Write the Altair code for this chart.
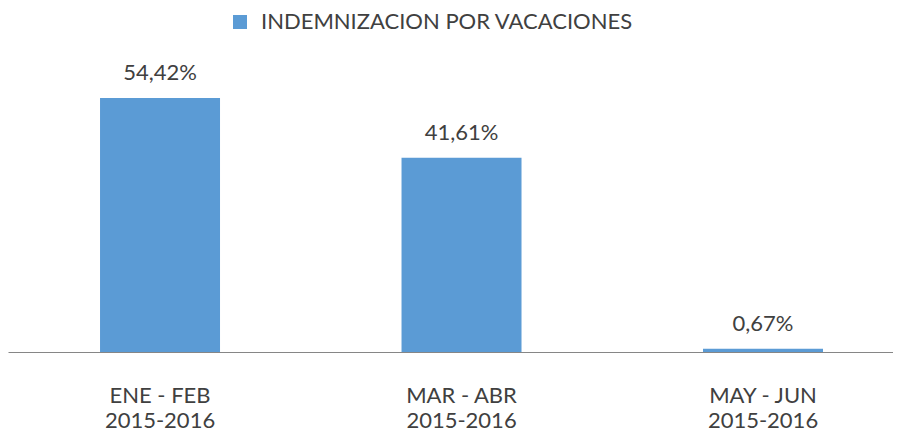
import altair as alt
import pandas as pd

categories = ["ENE - FEB\n2015-2016", "MAR - ABR\n 2015-2016", "MAY - JUN\n2015-2016"]
values = [54.42, 41.61, 0.67]
value_labels = ["54,42%", "41,61%", "0,67%"]
series_name = "INDEMNIZACION POR VACACIONES"

df = pd.DataFrame({
    "cat": categories,
    "value": values,
    "label": value_labels,
    "series": [series_name] * len(categories),
})

FONT = "Lato"
TXT = "#404040"

x = alt.X(
    "cat:N",
    sort=categories,
    scale=alt.Scale(paddingInner=0.602, paddingOuter=0.2687, align=0.568),
    axis=alt.Axis(
        title=None, labelAngle=0, ticks=False, domainColor="#868686",
        domainWidth=1, labelExpr="split(datum.label, '\\n')",
        labelFont=FONT, labelFontSize=22, labelColor=TXT,
        labelLineHeight=25, labelPadding=33,
    ),
)
y = alt.Y("value:Q", scale=alt.Scale(domain=[0, 60], nice=False, zero=True), axis=None)

bars = alt.Chart(df).mark_bar(color="#5B9BD5").encode(
    x=x,
    y=y,
    color=alt.Color(
        "series:N",
        scale=alt.Scale(range=["#5B9BD5"]),
        legend=alt.Legend(
            title=None, orient="none", legendX=221, legendY=-61,
            symbolType="square", symbolSize=196, symbolStrokeWidth=0,
            labelFont=FONT, labelFontSize=22, labelColor=TXT, labelOffset=10,
            labelLimit=1000,
        ),
    ),
)

text = alt.Chart(df).mark_text(
    dy=-18, baseline="alphabetic", font=FONT, fontSize=22, color=TXT
).encode(x=x, y=y, text="label:N")

chart = (bars + text).properties(
    width=885, height=280,
    autosize=alt.AutoSizeParams(type="none"),
    padding={"left": 0, "right": 0, "top": 64, "bottom": 82},
).configure_view(stroke=None)

chart.save("out.html", embed_options={"renderer": "svg", "actions": False})
